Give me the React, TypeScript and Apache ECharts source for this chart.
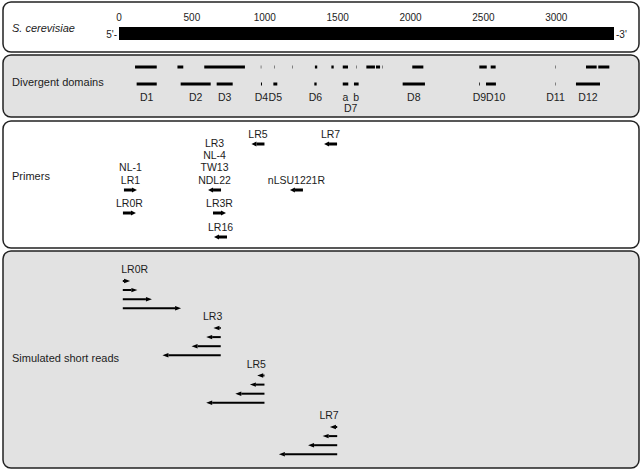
import React, { useEffect, useRef } from "react";
import * as echarts from "echarts";

// ---------------- data ----------------
const GENE_LENGTH = 3396;
const AXIS_TICKS = [0, 500, 1000, 1500, 2000, 2500, 3000];

// variable stretches (upper row of the divergent-domain panel), bp
const VAR_STARTS = [110, 401, 585, 973, 1064, 1189, 1344, 1457, 1535, 1628, 1697, 1763, 1806, 2012, 2472, 2550, 2993, 3204, 3288];
const VAR_ENDS = [259, 441, 864, 976, 1067, 1192, 1360, 1473, 1571, 1631, 1756, 1791, 1809, 2088, 2523, 2584, 2996, 3277, 3364];

// divergent domains D1-D12, bp
const DOMAIN_LABELS = ["D1", "D2", "D3", "D4", "D5", "D6", "a", "b", "D8", "D9", "D10", "D11", "D12"];
const DOMAIN_STARTS = [121, 423, 670, 974, 1059, 1340, 1535, 1612, 1946, 2470, 2518, 2993, 3135];
const DOMAIN_ENDS = [259, 629, 780, 981, 1086, 1356, 1573, 1644, 2099, 2475, 2586, 2996, 3300];
const D7_PARTS = ["a", "b"];

// primers
const PRIMER_LABELS = [["LR5"], ["LR7"], ["NL-1", "LR1"], ["LR3", "NL-4", "TW13", "NDL22"], ["nLSU1221R"], ["LR0R"], ["LR3R"], ["LR16"]];
const PRIMER_POS = [998, 1496, 34, 700, 1262, 27, 645, 741];
const PRIMER_DIR = [-1, -1, 1, -1, -1, 1, 1, -1];
const PRIMER_LANE = [0, 0, 1, 1, 1, 2, 2, 3];

// simulated short reads
const READ_PRIMERS = ["LR0R", "LR3", "LR5", "LR7"];
const READ_STARTS = [26, 698, 998, 1497];
const READ_DIRS = [1, -1, -1, -1];
const READ_LENGTHS = [50, 100, 200, 400];

// ---------------- layout / style ----------------
const FONT = "'Liberation Sans', Arial, Helvetica, sans-serif";
const TEXT = "#1c1c1c";
const GRAY = "#e2e2e2";
const LABEL_SIZE = 10.5;
const VAR_ROW_Y = 67;
const DOMAIN_ROW_Y = 84;
const DOMAIN_LABEL_Y = 96.5;
const D7_LABEL_Y = 107.5;
const PRIMER_LANE_Y = [144, 190, 213, 237];
const READ_GROUP_Y = [281, 328, 375.5, 427];
const READ_ROW_STEP = 9.1;

function arrow(tail: number, tip: number, y: number, shaftH: number, headL: number, headH: number) {
  const dir = tip >= tail ? 1 : -1;
  const len = Math.abs(tip - tail);
  const hl = Math.min(headL, len);
  const neck = tip - dir * hl;
  const children: any[] = [];
  if (len > hl) {
    children.push({
      type: "rect",
      shape: { x: Math.min(tail, neck), y: y - shaftH / 2, width: Math.abs(neck - tail), height: shaftH },
      style: { fill: "#000" },
    });
  }
  children.push({
    type: "polygon",
    shape: { points: [[tip, y], [neck, y - headH], [neck, y + headH]] },
    style: { fill: "#000" },
  });
  return children;
}

function txt(x: number, y: number, text: string, align = "center", size = LABEL_SIZE) {
  return {
    type: "text",
    style: { x, y, text, fill: TEXT, fontSize: size, fontFamily: FONT, align, verticalAlign: "middle" },
  };
}

// approximate label width (Arial metrics) for collision avoidance
function labelWidth(s: string) {
  let w = 0;
  for (const ch of s) w += ch === "D" ? 0.722 : 0.556;
  return w * LABEL_SIZE;
}

export default function App() {
  const ref = useRef<HTMLDivElement>(null);
  useEffect(() => {
    const chart = echarts.init(ref.current!, null, { renderer: "svg" });

    const panel = (y: number, h: number, fill: string) => ({
      type: "rect",
      z: 0,
      shape: { x: 3, y, width: 636, height: h, r: 8 },
      style: { fill, stroke: "#222", lineWidth: 1.5 },
    });
    const title = (y: number, text: string, italic = false) => ({
      type: "text",
      z: 1,
      x: 12,
      y,
      style: { text, fill: TEXT, fontSize: 11, fontFamily: FONT, fontStyle: italic ? "italic" : "normal", verticalAlign: "middle" },
    });

    const segRender = (params: any, api: any) => {
      const s = api.coord([api.value(0), api.value(2)]);
      const e = api.coord([api.value(1), api.value(2)]);
      return { type: "rect", shape: { x: s[0], y: s[1] - 1.5, width: Math.max(e[0] - s[0], 0.4), height: 3 }, style: { fill: "#000" } };
    };

    const domainLabelData = DOMAIN_LABELS.map((l, i) => [(DOMAIN_STARTS[i] + DOMAIN_ENDS[i]) / 2, DOMAIN_LABEL_Y, i]);
    const d7a = DOMAIN_LABELS.indexOf(D7_PARTS[0]);
    const d7b = DOMAIN_LABELS.indexOf(D7_PARTS[1]);
    const d7Center = (DOMAIN_STARTS[d7a] + DOMAIN_ENDS[d7b]) / 2;

    const readData: number[][] = [];
    READ_PRIMERS.forEach((p, g) => {
      READ_LENGTHS.forEach((len, i) => {
        readData.push([READ_STARTS[g], READ_STARTS[g] + READ_DIRS[g] * len, READ_GROUP_Y[g] + i * READ_ROW_STEP, g, i]);
      });
    });

    // track right edge of previously placed domain label to avoid overlap
    let prevRight = -Infinity;

    const option: any = {
      animation: false,
      backgroundColor: "#fff",
      graphic: [
        panel(2, 50, "#fff"),
        panel(55, 62, GRAY),
        panel(121, 127, "#fff"),
        panel(251, 217, GRAY),
        title(28, "S. cerevisiae", true),
        title(82, "Divergent domains"),
        title(176, "Primers"),
        title(358, "Simulated short reads"),
      ],
      grid: [
        { left: 119, width: 495, top: 27, height: 13 },
        { left: 119, width: 495, top: 0, height: 472 },
      ],
      xAxis: [
        {
          gridIndex: 0,
          type: "value",
          min: 0,
          max: GENE_LENGTH,
          interval: 500,
          position: "top",
          axisLine: { show: false },
          splitLine: { show: false },
          axisTick: { show: true, length: 2, customValues: AXIS_TICKS, lineStyle: { color: "#000", width: 1 } },
          axisLabel: {
            margin: 5,
            fontSize: 10,
            fontFamily: FONT,
            color: TEXT,
            customValues: AXIS_TICKS,
            formatter: (v: number) => (AXIS_TICKS.indexOf(v) >= 0 ? String(v) : ""),
          },
        },
        { gridIndex: 1, type: "value", min: 0, max: GENE_LENGTH, show: false },
      ],
      yAxis: [
        { gridIndex: 0, type: "value", min: 0, max: 1, show: false },
        { gridIndex: 1, type: "value", min: 0, max: 472, inverse: true, show: false },
      ],
      series: [
        {
          type: "custom",
          xAxisIndex: 0,
          yAxisIndex: 0,
          data: [[0, GENE_LENGTH]],
          encode: { x: [0, 1] },
          renderItem: (params: any, api: any) => {
            const a = api.coord([api.value(0), 1]);
            const b = api.coord([api.value(1), 0]);
            const mid = (a[1] + b[1]) / 2 + 1;
            return {
              type: "group",
              children: [
                { type: "rect", shape: { x: a[0], y: a[1], width: b[0] - a[0], height: b[1] - a[1] }, style: { fill: "#000" } },
                txt(a[0] - 2, mid, "5'-", "right", 10),
                txt(b[0] + 2, mid, "-3'", "left", 10),
              ],
            };
          },
        },
        {
          type: "custom",
          xAxisIndex: 1,
          yAxisIndex: 1,
          data: VAR_STARTS.map((s, i) => [s, VAR_ENDS[i], VAR_ROW_Y]),
          encode: { x: [0, 1], y: 2 },
          renderItem: segRender,
        },
        {
          type: "custom",
          xAxisIndex: 1,
          yAxisIndex: 1,
          data: DOMAIN_STARTS.map((s, i) => [s, DOMAIN_ENDS[i], DOMAIN_ROW_Y]),
          encode: { x: [0, 1], y: 2 },
          renderItem: segRender,
        },
        {
          type: "custom",
          xAxisIndex: 1,
          yAxisIndex: 1,
          data: [...domainLabelData, [d7Center, D7_LABEL_Y, -1]],
          encode: { x: 0, y: 1 },
          renderItem: (params: any, api: any) => {
            const p = api.coord([api.value(0), api.value(1)]);
            const i = api.value(2);
            if (i < 0) return txt(p[0], p[1], "D7");
            const label = DOMAIN_LABELS[i];
            const w = labelWidth(label);
            let cx = p[0];
            if (label.length > 1 && cx - w / 2 < prevRight) cx = prevRight + w / 2;
            if (label.length > 1) prevRight = cx + w / 2;
            return txt(cx, p[1], label);
          },
        },
        {
          type: "custom",
          xAxisIndex: 1,
          yAxisIndex: 1,
          data: PRIMER_POS.map((p, i) => [p, PRIMER_LANE_Y[PRIMER_LANE[i]], PRIMER_DIR[i], i]),
          encode: { x: 0, y: 1 },
          renderItem: (params: any, api: any) => {
            const p = api.coord([api.value(0), api.value(1)]);
            const dir = api.value(2);
            const idx = api.value(3);
            const tail = p[0];
            const tip = tail + dir * 13;
            const cx = (tail + tip) / 2;
            const labels = PRIMER_LABELS[idx];
            const children: any[] = arrow(tail, tip, p[1], 3, 5, 2.6);
            labels.forEach((l, k) => {
              children.push(txt(cx, p[1] - 10.5 - (labels.length - 1 - k) * 12.3, l));
            });
            return { type: "group", children };
          },
        },
        {
          type: "custom",
          xAxisIndex: 1,
          yAxisIndex: 1,
          data: readData,
          encode: { x: [0, 1], y: 2 },
          renderItem: (params: any, api: any) => {
            const a = api.coord([api.value(0), api.value(2)]);
            const b = api.coord([api.value(1), api.value(2)]);
            const g = api.value(3);
            const i = api.value(4);
            const children: any[] = arrow(a[0], b[0], a[1], 2, 6, 2.2);
            if (i === 0) {
              const dir = READ_DIRS[g];
              children.push(txt(dir > 0 ? a[0] - 1.5 : a[0] + 1.5, a[1] - 12, READ_PRIMERS[g], dir > 0 ? "left" : "right"));
            }
            return { type: "group", children };
          },
        },
      ],
    };
    chart.setOption(option);
    return () => chart.dispose();
  }, []);
  return <div ref={ref} style={{ position: "fixed", left: 0, top: 0, width: 643, height: 472, background: "#fff" }} />;
}
